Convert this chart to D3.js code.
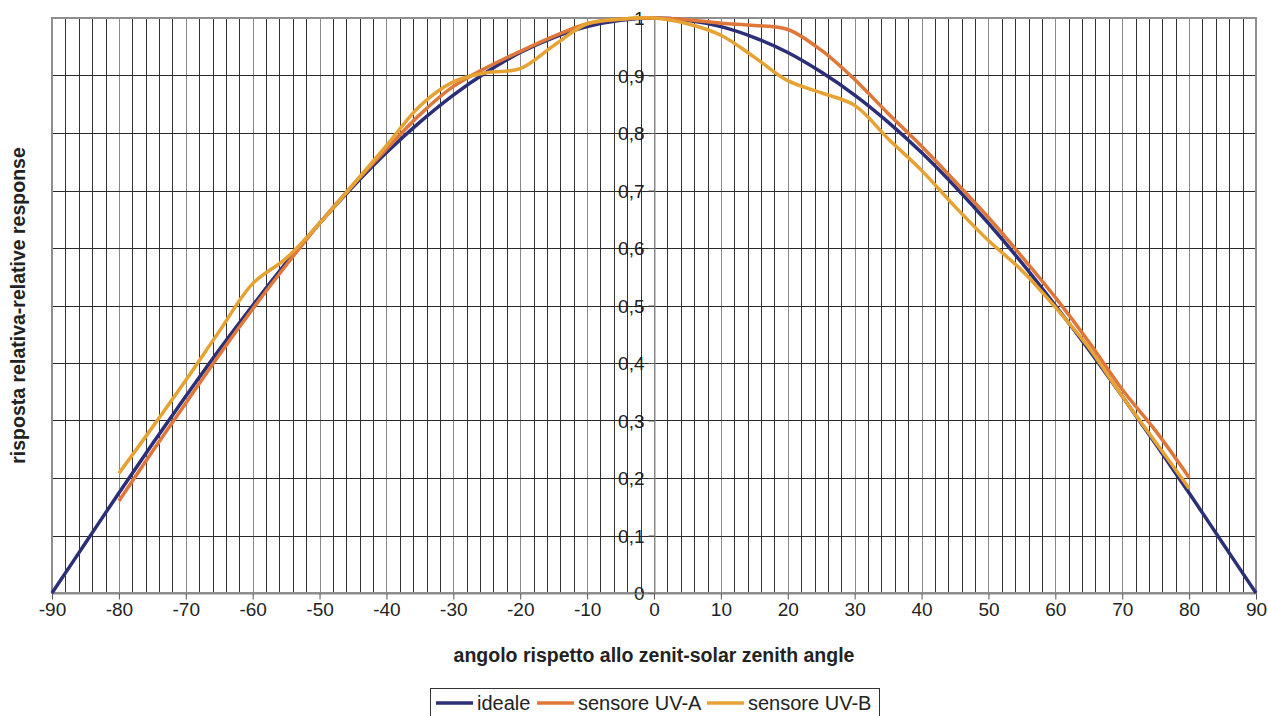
<!DOCTYPE html>
<html>
<head>
<meta charset="utf-8">
<script src="https://cdn.jsdelivr.net/npm/d3@7"></script>
<style>
  body { margin: 0; background: #fff; }
  svg { display: block; font-family: "Liberation Sans", Arial, sans-serif; }
</style>
</head>
<body>
<div id="vis-container"></div>
<script>
// chart data
const angles = [-90, -85, -80, -75, -70, -65, -60, -55, -50, -45, -40, -35, -30, -25, -20, -15, -10, -5,
  0, 5, 10, 15, 20, 25, 30, 35, 40, 45, 50, 55, 60, 65, 70, 75, 80, 85, 90];
const ideale = [0, 0.087, 0.174, 0.259, 0.342, 0.423, 0.5, 0.574, 0.643, 0.707, 0.766, 0.819, 0.866, 0.906, 0.94, 0.966, 0.985, 0.996,
  1, 0.996, 0.985, 0.966, 0.94, 0.906, 0.866, 0.819, 0.766, 0.707, 0.643, 0.574, 0.5, 0.423, 0.342, 0.259, 0.174, 0.087, 0];

const sensorAngles = [-80, -75, -70, -65, -60, -55, -50, -45, -40, -35, -30, -25, -20, -15, -10, -5,
  0, 5, 10, 15, 20, 25, 30, 35, 40, 45, 50, 55, 60, 65, 70, 75, 80];
const uvA = [0.16, 0.246, 0.33, 0.414, 0.494, 0.57, 0.643, 0.71, 0.772, 0.832, 0.881, 0.914, 0.942, 0.968, 0.99, 0.998,
  1, 0.997, 0.991, 0.987, 0.98, 0.944, 0.893, 0.834, 0.777, 0.716, 0.653, 0.585, 0.514, 0.437, 0.354, 0.282, 0.201];
const uvB = [0.208, 0.288, 0.37, 0.455, 0.538, 0.582, 0.643, 0.71, 0.778, 0.847, 0.889, 0.905, 0.912, 0.952, 0.99, 0.998,
  1, 0.99, 0.97, 0.932, 0.891, 0.87, 0.848, 0.79, 0.735, 0.672, 0.613, 0.561, 0.497, 0.427, 0.342, 0.262, 0.182];

const seriesNames = ["ideale", "sensore UV-A", "sensore UV-B"];
const seriesColors = ["#2b2f78", "#e0773a", "#e6a334"];

const yTicks = [0, 0.1, 0.2, 0.3, 0.4, 0.5, 0.6, 0.7, 0.8, 0.9, 1];
const xTicks = d3.range(-90, 91, 10);
const gridX = d3.range(-90, 91, 2);

const width = 1268;
const height = 716;
const margin = { left: 52, right: 12, top: 18, bottom: 123 };

const svg = d3.select("#vis-container")
  .append("svg")
  .attr("width", width)
  .attr("height", height);

const x = d3.scaleLinear()
  .domain([-90, 90])
  .range([margin.left, width - margin.right]);

const y = d3.scaleLinear()
  .domain([0, 1])
  .range([height - margin.bottom, margin.top]);

// vertical grid every 2 degrees
svg.append("g")
  .selectAll("line")
  .data(gridX)
  .join("line")
  .attr("x1", d => Math.round(x(d)) + 0.5)
  .attr("x2", d => Math.round(x(d)) + 0.5)
  .attr("y1", y(1))
  .attr("y2", y(0))
  .attr("stroke", d => (d % 10 === 0) ? "#8a8a8a" : "#333")
  .attr("stroke-width", 1);

// horizontal grid
svg.append("g")
  .selectAll("line")
  .data(yTicks)
  .join("line")
  .attr("x1", x(-90))
  .attr("x2", x(90))
  .attr("y1", d => Math.round(y(d)) + 0.5)
  .attr("y2", d => Math.round(y(d)) + 0.5)
  .attr("stroke", d => (d === 0 || d === 1) ? "#8a8a8a" : "#2a2a2a")
  .attr("stroke-width", 1);

// plot border
svg.append("rect")
  .attr("x", x(-90))
  .attr("y", y(1))
  .attr("width", x(90) - x(-90))
  .attr("height", y(0) - y(1))
  .attr("fill", "none")
  .attr("stroke", "#8f8f8f")
  .attr("stroke-width", 2);

// y axis at zero angle
svg.append("g")
  .attr("transform", `translate(${Math.round(x(0)) + 0.5},0)`)
  .call(d3.axisLeft(y)
    .tickValues(yTicks)
    .tickSize(6)
    .tickPadding(4)
    .tickFormat(d => d3.format(".1~f")(d).replace(".", ",")))
  .call(g => g.select(".domain").attr("stroke", "#8a8a8a"))
  .call(g => g.selectAll(".tick line").attr("stroke", "#555"))
  .call(g => g.selectAll("text")
    .attr("font-size", "19px")
    .attr("fill", "#222")
    .attr("dy", "0.35em"));

// x axis
svg.append("g")
  .attr("transform", `translate(0,${Math.round(y(0)) + 0.5})`)
  .call(d3.axisBottom(x)
    .tickValues(xTicks)
    .tickSize(6)
    .tickSizeOuter(0)
    .tickFormat(d => String(d)))
  .call(g => g.select(".domain").attr("stroke", "#8a8a8a"))
  .call(g => g.selectAll(".tick line").attr("stroke", "#555"))
  .call(g => g.selectAll("text")
    .attr("font-size", "19px")
    .attr("fill", "#222")
    .attr("y", 9));

// axis titles
svg.append("text")
  .attr("x", x(0))
  .attr("y", 662)
  .attr("text-anchor", "middle")
  .attr("font-size", "19.5px")
  .attr("font-weight", "bold")
  .attr("fill", "#222")
  .text("angolo rispetto allo zenit-solar zenith angle");

svg.append("text")
  .attr("transform", `translate(25,${(y(0) + y(1)) / 2}) rotate(-90)`)
  .attr("text-anchor", "middle")
  .attr("font-size", "19.5px")
  .attr("font-weight", "bold")
  .attr("fill", "#222")
  .text("risposta relativa-relative response");

// lines
const line = d3.line()
  .x(d => x(d[0]))
  .y(d => y(d[1]))
  .curve(d3.curveCatmullRom.alpha(0.5));

const seriesData = [
  d3.zip(angles, ideale),
  d3.zip(sensorAngles, uvA),
  d3.zip(sensorAngles, uvB)
];

svg.append("g")
  .selectAll("path")
  .data(seriesData)
  .join("path")
  .attr("fill", "none")
  .attr("stroke", (d, i) => seriesColors[i])
  .attr("stroke-width", 3.5)
  .attr("stroke-linejoin", "round")
  .attr("d", line);

// legend
const legend = svg.append("g");
legend.append("rect")
  .attr("x", 430.5)
  .attr("y", 688.5)
  .attr("width", 449)
  .attr("height", 40)
  .attr("fill", "#fff")
  .attr("stroke", "#333")
  .attr("stroke-width", 1);

const legendX = [436, 537, 707];
const item = legend.selectAll("g.item")
  .data(seriesNames)
  .join("g")
  .attr("class", "item")
  .attr("transform", (d, i) => `translate(${legendX[i]},703)`);

item.append("line")
  .attr("x1", 0)
  .attr("x2", 37)
  .attr("stroke", (d, i) => seriesColors[i])
  .attr("stroke-width", 3.5);

item.append("text")
  .attr("x", 41)
  .attr("dy", "0.35em")
  .attr("font-size", "20px")
  .attr("fill", "#222")
  .text(d => d);
</script>
</body>
</html>
